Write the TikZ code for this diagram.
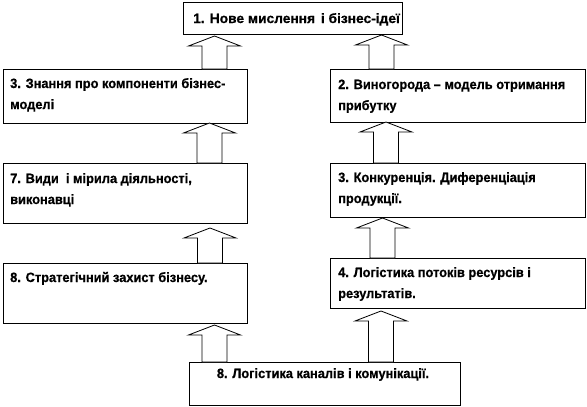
\documentclass[tikz,border=0pt]{standalone}
\usepackage{fontspec}
\newfontfamily\lblfont{Liberation Sans Bold}[FakeStretch=0.95, FakeBold=0.6]
\newfontfamily\lbltopfont{Liberation Sans Bold}[FakeStretch=1.02, FakeBold=0.6]
\usetikzlibrary{calc}
\tikzset{
  box/.style={draw=black, line width=0.8pt, fill=white, inner sep=0pt, anchor=north west, rectangle},
  txt/.style={inner sep=0pt, anchor=base west, font=\lblfont\fontsize{13.5}{16}\selectfont},
  ttxt/.style={inner sep=0pt, anchor=base west, font=\lbltopfont\fontsize{13.5}{16}\selectfont},
  ctxt/.style={inner sep=0pt, anchor=base, font=\lblfont\fontsize{13.5}{16}\selectfont},
  blockarrow/.style={draw=black, line width=0.8pt, fill=white, line join=miter,
    to path={let \p1=(\tikztostart), \p2=(\tikztotarget) in
      (\x1-12.5pt,\y1) -- (\x1-12.5pt,\y2-10pt) -- (\x1-26pt,\y2-10pt) -- (\x1,\y2)
      -- (\x1+26pt,\y2-10pt) -- (\x1+12.5pt,\y2-10pt) -- (\x1+12.5pt,\y1) -- cycle}}
}
\begin{document}
\begin{tikzpicture}[x=1pt,y=-1pt]
\useasboundingbox[fill=white] (0,0) rectangle (587,407);
% boxes
\node[box, minimum width=219pt, minimum height=32pt] (b1) at (183,2) {};
\node[box, minimum width=244pt, minimum height=54pt] (b3L) at (3,69) {};
\node[box, minimum width=255pt, minimum height=53pt] (b2R) at (330,69) {};
\node[box, minimum width=244pt, minimum height=60pt] (b7L) at (3,163) {};
\node[box, minimum width=255pt, minimum height=54pt] (b3R) at (330,163) {};
\node[box, minimum width=244pt, minimum height=60pt] (b8L) at (3,263) {};
\node[box, minimum width=255pt, minimum height=50pt] (b4R) at (330,258) {};
\node[box, minimum width=271pt, minimum height=43pt] (bB) at (189,362) {};
% texts
\node[ttxt] (t1) at (193,23) {1. Нове мислення \hspace{2pt}і бізнес-ідеї};
\node[txt] (t3La) at (10,88) {3. Знання про компоненти бізнес-};
\node[txt] (t3Lb) at (10,109) {моделі};
\node[txt] (t2Ra) at (338,89) {2. Виногорода – модель отримання};
\node[txt] (t2Rb) at (338,110) {прибутку};
\node[txt] (t7La) at (10,183) {7. Види \ і мірила діяльності,};
\node[txt] (t7Lb) at (10,204) {виконавці};
\node[txt] (t3Ra) at (338,182) {3. Конкуренція. Диференціація};
\node[txt] (t3Rb) at (338,203) {продукції.};
\node[txt] (t8L) at (10,282) {8. Стратегічний захист бізнесу.};
\node[txt] (t4Ra) at (338,277) {4. Логістика потоків ресурсів і};
\node[txt] (t4Rb) at (338,298) {результатів.};
\node[ctxt] (tB) at (323,378) {8. Логістика каналів і комунікації.};
% arrow end points
\coordinate (a1s) at (214.5,362); \coordinate (a1t) at (214.5,325);
\coordinate (a2s) at (210,263);   \coordinate (a2t) at (210,228);
\coordinate (a3s) at (209.5,163); \coordinate (a3t) at (209.5,123);
\coordinate (a4s) at (214.5,69);  \coordinate (a4t) at (214.5,36);
\coordinate (a5s) at (381,362);   \coordinate (a5t) at (381,311);
\coordinate (a6s) at (382.5,258); \coordinate (a6t) at (382.5,218);
\coordinate (a7s) at (386,163);   \coordinate (a7t) at (386,122);
\coordinate (a8s) at (381.5,69);  \coordinate (a8t) at (381.5,35);
\foreach \i in {1,...,8} { \draw[blockarrow] (a\i s) to (a\i t); }
\end{tikzpicture}
\end{document}
